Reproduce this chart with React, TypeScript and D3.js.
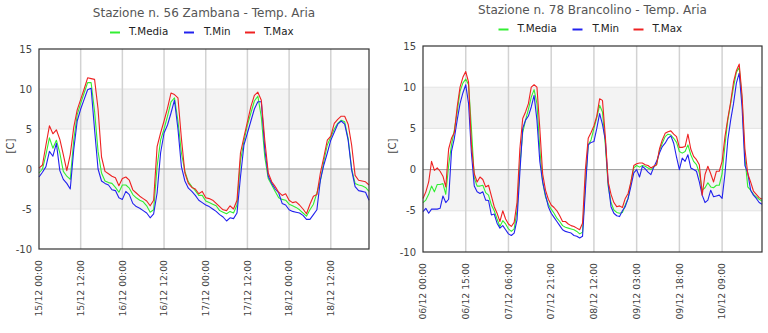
import React from "react";
import * as d3 from "d3";

const yTicks = [-10, -5, 0, 5, 10, 15];

const leftTitle = "Stazione n. 56 Zambana - Temp. Aria";
const leftTickHours = [0, 12, 24, 36, 48, 60, 72, 84];
const leftTickLabels = ["15/12 00:00", "15/12 12:00", "16/12 00:00", "16/12 12:00", "17/12 00:00", "17/12 12:00", "18/12 00:00", "18/12 12:00"];
const leftMax = [
  0.1, 0.5, 3.0, 5.4, 4.4, 4.9, 3.7, 1.8, -0.2, 1.8,
  5.2, 7.4, 8.7, 10.0, 11.4, 11.3, 11.2, 7.5, 1.5, -0.3,
  -0.6, -0.9, -1.1, -2.1, -1.2, -1.0, -1.4, -2.6, -3.0, -3.4,
  -3.7, -4.0, -4.6, -3.9, 2.8, 4.5, 6.0, 7.6, 9.5, 9.3,
  8.9, 3.8, -0.5, -1.8, -2.3, -2.5, -3.1, -2.8, -3.6, -3.7,
  -3.9, -4.3, -4.7, -5.1, -5.2, -4.6, -5.0, -3.9, 2.0, 4.0,
  5.9, 7.8, 9.2, 9.6, 8.6, 3.6, -0.5, -1.6, -2.2, -2.9,
  -3.3, -3.1, -3.9, -4.2, -4.1, -4.5, -5.0, -5.6, -4.4, -3.4,
  -3.2, -0.5, 1.5, 3.6, 4.1, 5.7, 6.2, 6.6, 6.6, 5.6,
  3.0, -0.8, -1.4, -1.5, -1.6, -2.0,
];
const leftMed = [
  -0.5, 0.0, 1.8, 3.9, 2.6, 3.6, 2.0, -0.3, -0.9, -1.3,
  3.6, 6.8, 8.2, 9.5, 10.8, 10.8, 7.2, 2.2, -0.5, -1.5,
  -1.7, -1.8, -2.3, -2.9, -2.0, -2.0, -2.4, -3.2, -3.6, -3.9,
  -4.1, -4.6, -5.4, -5.1, 0.3, 3.6, 5.0, 6.6, 8.4, 8.9,
  6.0, 2.0, -0.3, -1.6, -2.2, -2.7, -3.3, -3.3, -4.0, -4.2,
  -4.4, -4.6, -5.2, -5.4, -5.6, -5.3, -5.5, -4.5, 1.0, 3.5,
  5.5, 7.0, 8.5, 9.1, 6.5, 1.5, -1.2, -2.0, -2.8, -3.6,
  -3.8, -3.9, -4.4, -4.6, -4.8, -5.1, -5.5, -5.9, -5.1, -4.4,
  -3.0, -1.5, 1.0, 3.0, 4.0, 5.0, 5.7, 6.1, 5.9, 3.8,
  0.0, -1.8, -2.0, -2.1, -2.3, -2.8,
];
const leftMin = [
  -1.0, -0.4, 0.3, 2.2, 1.6, 3.2, -0.2, -1.3, -1.8, -2.5,
  2.4, 6.0, 7.5, 8.7, 9.9, 10.1, 4.9, 0.0, -1.5, -1.8,
  -2.0, -2.6, -2.7, -3.6, -3.8, -2.8, -3.2, -4.3, -4.7, -4.9,
  -5.2, -5.5, -6.1, -5.6, -3.0, 2.0, 4.5, 5.5, 7.0, 8.6,
  5.0, 0.3, -1.5, -2.4, -2.8, -3.3, -3.9, -4.2, -4.5, -4.7,
  -5.0, -5.3, -5.7, -6.0, -6.5, -6.1, -6.2, -5.5, -1.0, 3.0,
  4.5, 6.0, 7.5, 8.4, 8.4, 2.5, -0.9, -1.8, -2.5, -3.0,
  -4.3, -4.5, -5.1, -5.3, -5.4, -5.5, -5.8, -6.3, -6.3, -5.7,
  -5.1, -1.4, 0.5, 2.0, 3.6, 4.6, 5.6, 6.0, 5.6, 3.6,
  -0.1, -2.2, -2.7, -2.8, -2.9, -3.9,
];

const rightTitle = "Stazione n. 78 Brancolino - Temp. Aria";
const rightTickHours = [0, 15, 30, 45, 60, 75, 90, 105];
const rightTickLabels = ["06/12 00:00", "06/12 15:00", "07/12 06:00", "07/12 21:00", "08/12 12:00", "09/12 03:00", "09/12 18:00", "10/12 09:00"];
const rightMax = [
  -3.5, -2.7, -1.5, 1.0, -0.1, 0.2, -0.2, -0.8, -2.1, 2.5,
  3.8, 4.5, 7.6, 10.0, 11.2, 11.9, 10.6, 3.0, -0.5, -1.5,
  -0.9, -1.2, -2.1, -1.9, -3.2, -4.5, -5.3, -6.3, -5.0, -6.0,
  -6.6, -6.9, -6.4, -4.0, 2.5, 6.2, 7.0, 8.0, 10.0, 10.3,
  10.0, 5.0, -0.5, -2.5, -3.6, -4.3, -4.6, -5.0, -5.6, -6.3,
  -6.3, -6.6, -6.8, -6.9, -7.1, -7.3, -6.5, 0.0, 3.8, 4.5,
  5.3, 6.5, 8.6, 8.4, 4.0, -1.5, -3.0, -4.0, -4.5, -4.4,
  -4.6, -3.5, -2.9, -1.5, 0.5, 0.7, 0.8, 0.8, 0.6, 0.5,
  0.2, 0.4, 0.6, 2.5, 3.6, 4.4, 4.6, 4.7, 4.3, 4.0,
  2.7, 2.7, 2.8, 4.3, 2.5, 1.6, 1.2, 0.6, -3.1, -0.6,
  0.4, -0.5, -1.5, -0.2, -0.2, 1.0, 4.0, 6.2, 8.2, 10.6,
  12.0, 12.8, 9.0, 2.5, -0.5, -1.5, -2.6, -3.0, -3.4, -3.6,
];
const rightMed = [
  -4.0, -3.7, -3.0, -2.0, -2.7, -1.8, -1.8, -1.7, -3.0, 0.5,
  3.0, 4.8, 7.0, 9.5, 10.5, 11.0, 10.3, 5.0, -1.0, -2.0,
  -2.0, -1.9, -2.8, -3.1, -4.3, -5.0, -6.0, -6.9, -6.2, -6.6,
  -7.2, -7.5, -7.2, -5.0, 0.5, 4.5, 6.0, 7.3, 8.8, 9.7,
  8.0, 2.5, -1.5, -3.3, -4.2, -4.8, -5.3, -5.9, -6.3, -6.8,
  -7.0, -7.1, -7.2, -7.3, -7.5, -7.8, -7.6, -1.5, 3.0, 3.6,
  5.0, 6.3, 7.8, 7.0, 3.0, -2.0, -4.0, -4.9, -5.2, -5.3,
  -5.2, -4.3, -3.5, -1.5, 0.2, 0.5, 0.3, 0.5, 0.4, 0.2,
  0.0, 0.3, 0.6, 2.3, 3.2, 4.0, 4.3, 4.2, 3.8, 3.3,
  2.2, 2.0, 2.2, 3.0, 1.8, 1.0, 0.6, -0.4, -2.5, -2.2,
  -1.6, -2.1, -2.2, -1.9, -1.9, -0.5, 3.0, 6.0, 8.0, 10.0,
  11.8, 12.4, 8.5, 1.5, -2.1, -2.5, -3.0, -3.3, -3.6, -3.8,
];
const rightMin = [
  -5.1, -4.7, -5.3, -4.8, -4.8, -4.8, -4.7, -3.2, -4.0, -3.6,
  2.2, 3.8, 6.0, 8.0, 9.3, 10.3, 8.0, 2.0, -2.0, -2.7,
  -2.9, -2.7, -3.7, -3.75, -5.5, -5.4, -6.5, -7.1, -6.8, -7.3,
  -7.8, -8.0, -7.7, -6.1, -0.4, 5.0, 6.0, 6.5, 7.6, 9.0,
  6.0, 1.0, -1.5, -3.1, -4.5, -5.3, -5.8, -6.3, -6.8, -7.3,
  -7.5, -7.6, -7.7, -8.0, -8.1, -8.3, -8.1, -2.5, 3.0, 3.3,
  3.4, 5.0, 6.8, 5.5, 3.6, -1.7, -4.5, -5.3, -5.6, -5.7,
  -5.0, -4.5, -3.5, -2.0, -0.4, 0.0, -0.9, 0.4, 0.1, -0.3,
  -0.6, 0.3, 1.0, 2.0, 2.8, 3.2, 3.8, 4.1, 3.2, 1.5,
  0.0, 1.4, 1.0, 1.8, 0.2, 0.0, -0.2, -1.5, -3.1, -4.0,
  -3.7, -2.5, -3.3, -3.2, -3.1, -3.5, -0.5, 3.6, 6.0, 8.0,
  10.5, 11.7, 7.6, 0.5, -0.4, -2.5, -3.1, -3.5, -4.0, -4.2,
];

const seriesNames = ["T.Media", "T.Min", "T.Max"];
const seriesColors = ["#33ee33", "#2222ee", "#ee2222"];

const FONT = "DejaVu Sans, sans-serif";

type ChartProps = {
  x0: number; x1: number; yTop: number; yBot: number;
  title: string; titleY: number; legendY: number;
  med: number[]; min: number[]; max: number[];
  tickHours: number[]; tickLabels: string[];
  yLabelX: number; cX: number; cY: number; xLabelY: number;
};

function Chart(p: ChartProps) {
  const n = p.max.length;
  const x = d3.scaleLinear().domain([0, n - 1]).range([p.x0, p.x1]);
  const y = d3.scaleLinear().domain([-10, 15]).range([p.yBot, p.yTop]);
  const line = d3.line<number>().x((_, i) => x(i)).y((d) => y(d));
  const cx = (p.x0 + p.x1) / 2;
  const bands = [[5, 10], [-5, 0]];
  const legendOffsets = [[-94, -75], [-20, 0], [41, 60]];
  const seriesData = [p.med, p.min, p.max];
  return (
    <g>
      <text x={cx} y={p.titleY} textAnchor="middle" fontFamily={FONT} fontSize={12} fill="#555">{p.title}</text>
      {seriesNames.map((name, i) => (
        <g key={name}>
          <line x1={cx + legendOffsets[i][0]} x2={cx + legendOffsets[i][0] + 10} y1={p.legendY - 2.5} y2={p.legendY - 2.5} stroke={seriesColors[i]} strokeWidth={2} />
          <text x={cx + legendOffsets[i][1]} y={p.legendY} fontFamily={FONT} fontSize={10.3} fill="#222">{name}</text>
        </g>
      ))}
      <rect x={p.x0} y={p.yTop} width={p.x1 - p.x0} height={p.yBot - p.yTop} fill="#fff" />
      {bands.map((b, i) => (
        <rect key={i} x={p.x0} y={y(b[1])} width={p.x1 - p.x0} height={y(b[0]) - y(b[1])} fill="#f3f3f3" />
      ))}
      {yTicks.filter((t) => t !== 0 && t !== 15 && t !== -10).map((t) => (
        <line key={t} x1={p.x0} x2={p.x1} y1={y(t)} y2={y(t)} stroke="#e4e4e4" strokeWidth={1} />
      ))}
      {p.tickHours.filter((h) => h > 0).map((h) => (
        <line key={h} x1={x(h)} x2={x(h)} y1={p.yTop} y2={p.yBot} stroke="#d2d2d2" strokeWidth={1.5} />
      ))}
      <line x1={p.x0} x2={p.x1} y1={y(0)} y2={y(0)} stroke="#999" strokeWidth={1} />
      {seriesData.map((s, i) => (
        <path key={i} d={line(s) || ""} fill="none" stroke={seriesColors[i]} strokeWidth={1.1} strokeLinejoin="round" />
      ))}
      <rect x={p.x0} y={p.yTop} width={p.x1 - p.x0} height={p.yBot - p.yTop} fill="none" stroke="#333" strokeWidth={1.2} />
      {yTicks.map((t) => (
        <text key={t} x={p.yLabelX} y={y(t)} dy="0.35em" textAnchor="end" fontFamily={FONT} fontSize={10} fill="#444">{t}</text>
      ))}
      <text transform={`translate(${p.cX},${p.cY}) rotate(-90)`} textAnchor="middle" dy="0.35em" fontFamily={FONT} fontSize={10} fill="#444">[C]</text>
      {p.tickHours.map((h, i) => (
        <text key={h} transform={`translate(${x(h)},${p.xLabelY}) rotate(-90)`} textAnchor="end" dy="0.35em" fontFamily={FONT} fontSize={9.3} fill="#444">{p.tickLabels[i]}</text>
      ))}
    </g>
  );
}

export default function App() {
  return (
    <svg width={768} height={333} style={{ position: "absolute", left: 0, top: 0, background: "#fff" }}>
      <rect width={768} height={333} fill="#fff" />
      <Chart x0={39} x1={369} yTop={49} yBot={249} title={leftTitle} titleY={17} legendY={35}
        med={leftMed} min={leftMin} max={leftMax} tickHours={leftTickHours} tickLabels={leftTickLabels}
        yLabelX={32} cX={10} cY={146} xLabelY={260} />
      <Chart x0={423} x1={762} yTop={46} yBot={252} title={rightTitle} titleY={14} legendY={32}
        med={rightMed} min={rightMin} max={rightMax} tickHours={rightTickHours} tickLabels={rightTickLabels}
        yLabelX={416} cX={392} cY={146} xLabelY={263} />
    </svg>
  );
}
